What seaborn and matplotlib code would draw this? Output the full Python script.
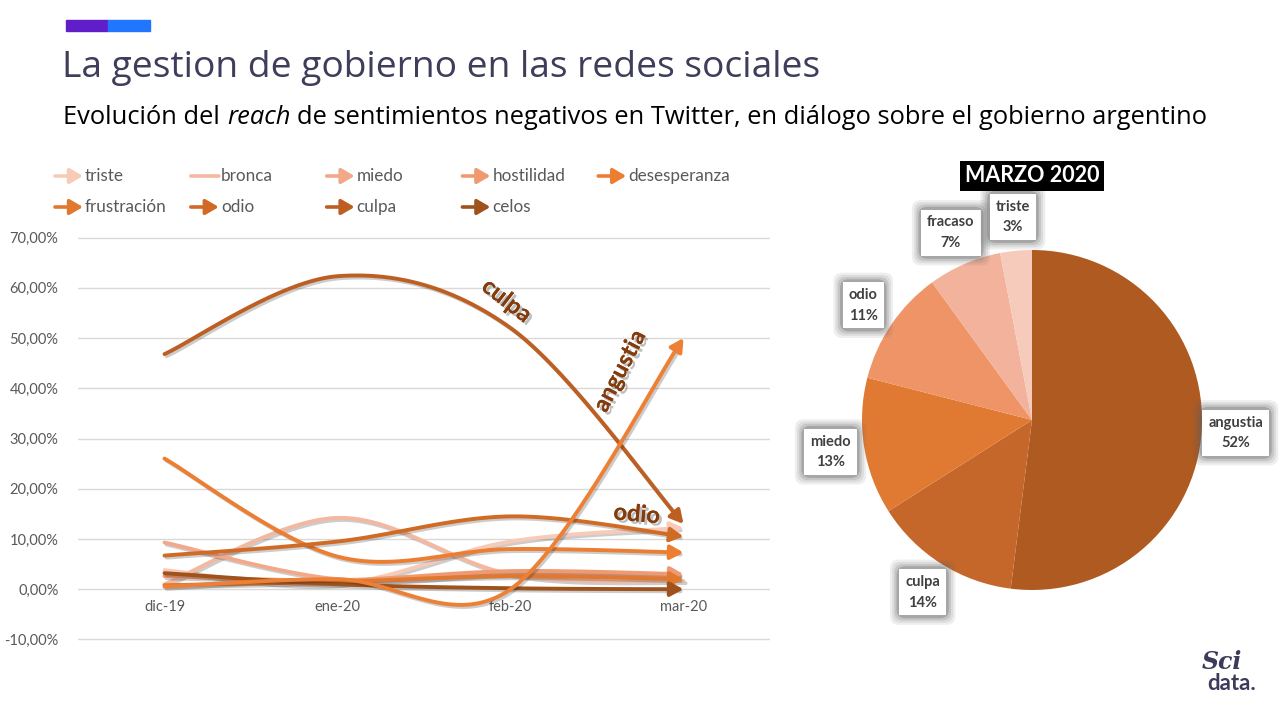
import numpy as np
import pandas as pd
import matplotlib
matplotlib.use("Agg")
import matplotlib.pyplot as plt
import matplotlib.patheffects as pe
from matplotlib.patches import FancyArrowPatch, Rectangle
import seaborn as sns

# ---- data ----
months = ["dic-19", "ene-20", "feb-20", "mar-20"]

triste = [3.8, 1.0, 9.5, 12.2]
bronca = [1.0, 14.2, 3.0, 1.6]
miedo = [9.3, 2.0, 3.0, 2.6]
hostilidad = [2.6, 1.8, 3.6, 3.0]
desesperanza = [26.0, 6.5, 8.0, 7.3]
frustracion = [0.8, 1.5, 2.6, 2.0]
odio = [6.7, 9.5, 14.5, 10.5]
culpa = [46.8, 62.3, 52.0, 13.0]
celos = [3.2, 1.0, 0.2, 0.0]
angustia = [0.5, 2.0, 0.0, 50.0]

series_names = ["triste", "bronca", "miedo", "hostilidad", "desesperanza",
                "frustración", "odio", "culpa", "celos", "angustia"]
series_values = [triste, bronca, miedo, hostilidad, desesperanza,
                 frustracion, odio, culpa, celos, angustia]
series_colors = ["#F8CBB8", "#F4B8A0", "#F2A98A", "#F09A72", "#ED7D31",
                 "#E0792F", "#D06B25", "#BD5F22", "#A0521C", "#ED8035"]
has_arrow = [True, False, True, True, True, True, True, True, True, True]
in_legend = [True] * 9 + [False]

pie_labels = ["angustia", "culpa", "miedo", "odio", "fracaso", "triste"]
pie_values = [52, 14, 13, 11, 7, 3]
pie_colors = ["#AE5A21", "#C5672A", "#E07A32", "#EE9467", "#F2B29B", "#F6CBBB"]

W, H = 1280, 720
TXT = "#595959"
BROWN = "#843C0C"

sns.set_theme(style="white")
plt.rcParams["font.family"] = ["Lato", "DejaVu Sans"]


def smooth(vals, n=40):
    # Excel-like smoothed line: cubic bezier with neighbour-based control points
    pts = np.column_stack([np.arange(len(vals), dtype=float), np.asarray(vals, float)])
    out = []
    for i in range(len(pts) - 1):
        p0, p1, p2 = pts[max(i - 1, 0)], pts[i], pts[i + 1]
        p3 = pts[min(i + 2, len(pts) - 1)]
        c1 = p1 + (p2 - p0) / 6
        c2 = p2 - (p3 - p1) / 6
        t = np.linspace(0, 1, n)[:, None]
        seg = (1 - t) ** 3 * p1 + 3 * (1 - t) ** 2 * t * c1 + 3 * (1 - t) * t ** 2 * c2 + t ** 3 * p2
        out.append(seg if i == len(pts) - 2 else seg[:-1])
    return np.vstack(out)


fig = plt.figure(figsize=(12.8, 7.2), dpi=100)

# ---- header ----
fig.add_artist(Rectangle((66 / W, 1 - 31 / H), 42 / W, 11 / H, color="#5F1EC8", transform=fig.transFigure))
fig.add_artist(Rectangle((108 / W, 1 - 31 / H), 42 / W, 11 / H, color="#2176FF", transform=fig.transFigure))
fig.text(62 / W, 1 - 68 / H, "La gestion de gobierno en las redes sociales", fontsize=26.7,
         color="#3E3D5A", va="center", ha="left", family=["Open Sans", "DejaVu Sans"])

renderer = fig.canvas.get_renderer()
sub_parts = [("Evolución del", "normal"), ("reach", "italic"),
             ("de sentimientos negativos en Twitter, en diálogo sobre el gobierno argentino", "normal")]
xpos = 63
for txt, st in sub_parts:
    t = fig.text(xpos / W, 1 - 118 / H, txt, fontsize=18.4, style=st, color="black",
                 va="center", ha="left", family=["Open Sans", "DejaVu Sans"])
    bb = t.get_window_extent(renderer)
    xpos = bb.x1 + 7

# ---- line chart ----
ax = fig.add_axes([78 / W, 1 - 641 / H, 692 / W, 405 / H])
shadow = [pe.SimpleLineShadow(offset=(1.5, -1.5), alpha=0.22), pe.Normal()]
for name, vals, c, arr in zip(series_names, series_values, series_colors, has_arrow):
    curve = smooth(vals)
    cut = len(curve) - 2 if arr else len(curve)
    df = pd.DataFrame({"x": curve[:cut, 0], "y": curve[:cut, 1]})
    sns.lineplot(data=df, x="x", y="y", sort=False, estimator=None, ax=ax, color=c,
                 lw=2.8, solid_capstyle="round", path_effects=shadow, zorder=3)
    if arr:
        ax.add_patch(FancyArrowPatch(tuple(curve[-4]), tuple(curve[-1]),
                                     arrowstyle="-|>,head_length=0.55,head_width=0.3",
                                     mutation_scale=14, color=c, lw=2.8, shrinkA=0, shrinkB=0,
                                     zorder=3))

ax.set_xlim(-0.5, 3.5)
ax.set_ylim(-10.3, 70.3)
ax.set_yticks(np.arange(-10, 71, 10))
ax.set_yticklabels([f"{v:.2f}%".replace(".", ",") for v in np.arange(-10, 71, 10)])
ax.set_xticks(range(len(months)))
ax.set_xticklabels(months)
ax.yaxis.grid(True, color="#D9D9D9", lw=1)
ax.xaxis.grid(False)
for s in ["top", "right", "left"]:
    ax.spines[s].set_visible(False)
ax.spines["bottom"].set_position(("data", 0))
ax.spines["bottom"].set_color("none")
ax.tick_params(axis="both", length=0, labelsize=10.5, labelcolor=TXT)
ax.tick_params(axis="x", pad=8)
ax.tick_params(axis="y", pad=14)
ax.set_xlabel("")
ax.set_ylabel("")

lab_fx = [pe.withSimplePatchShadow(offset=(2, -2), shadow_rgbFace="#808080", alpha=0.5), pe.Normal()]
ax.text(1.98, 57.5, "culpa", rotation=-38, color=BROWN, fontsize=17, fontweight="bold",
        ha="center", va="center", path_effects=lab_fx, zorder=5)
ax.text(2.63, 43.5, "angustia", rotation=63, color=BROWN, fontsize=17, fontweight="bold",
        ha="center", va="center", path_effects=lab_fx, zorder=5)
ax.text(2.73, 15.0, "odio", rotation=-5, color=BROWN, fontsize=17, fontweight="bold",
        ha="center", va="center", path_effects=lab_fx, zorder=5)

# ---- legend (fixed-width columns like the original) ----
for i, (name, c, arr, show) in enumerate(zip(series_names, series_colors, has_arrow, in_legend)):
    if not show:
        continue
    row, col = divmod(i, 5)
    x0 = 55 + 135.8 * col
    y0 = 1 - (176 + 31 * row) / H
    style = "-|>,head_length=0.6,head_width=0.35" if arr else "-"
    fig.add_artist(FancyArrowPatch((x0 / W, y0), ((x0 + 28) / W, y0), transform=fig.transFigure,
                                   arrowstyle=style, mutation_scale=13, color=c, lw=2.6,
                                   shrinkA=0, shrinkB=0))
    fig.text((x0 + 30) / W, y0, name, fontsize=12.3, color=TXT, va="center", ha="left")

# ---- pie ----
pax = fig.add_axes([862 / W, 1 - 590 / H, 340 / W, 340 / H])
wedges, _ = pax.pie(pie_values, colors=pie_colors, startangle=90, counterclock=False,
                    radius=1.0, wedgeprops=dict(lw=0))
pax.set_xlim(-1, 1)
pax.set_ylim(-1, 1)
for w, name, v in zip(wedges, pie_labels, pie_values):
    ang = np.deg2rad((w.theta1 + w.theta2) / 2)
    x, y = 1.2 * np.cos(ang), 1.2 * np.sin(ang)
    label = f"{name}\n{v}%"
    for pad, a in [(1.05, 0.1), (0.9, 0.12), (0.75, 0.18), (0.6, 0.3)]:
        pax.text(x, y, label, ha="center", va="center", fontsize=10.5, fontweight="bold",
                 color="none", linespacing=1.6, clip_on=False,
                 bbox=dict(boxstyle=f"round,pad={pad},rounding_size=0.6", fc="#606060",
                           ec="none", alpha=a))
    pax.text(x, y, label, ha="center", va="center", fontsize=10.5, fontweight="bold",
             color="#404040", linespacing=1.6, clip_on=False,
             bbox=dict(boxstyle="square,pad=0.4", fc="white", ec="none"))

fig.text(1032 / W, 1 - 176 / H, "MARZO 2020", ha="center", va="center", fontsize=15.5,
         fontweight="bold", color="white",
         bbox=dict(boxstyle="square,pad=0.2", fc="black", ec="none"))

# ---- logo ----
fig.text(1222 / W, 1 - 662 / H, "Sci", fontsize=17, style="italic", fontweight="bold",
         color="#3C3B5A", ha="center", va="center", family=["DejaVu Serif"])
fig.text(1232 / W, 1 - 684 / H, "data.", fontsize=16, fontweight="bold",
         color="#3C3B5A", ha="center", va="center")

fig.savefig("out.png", dpi=100)
